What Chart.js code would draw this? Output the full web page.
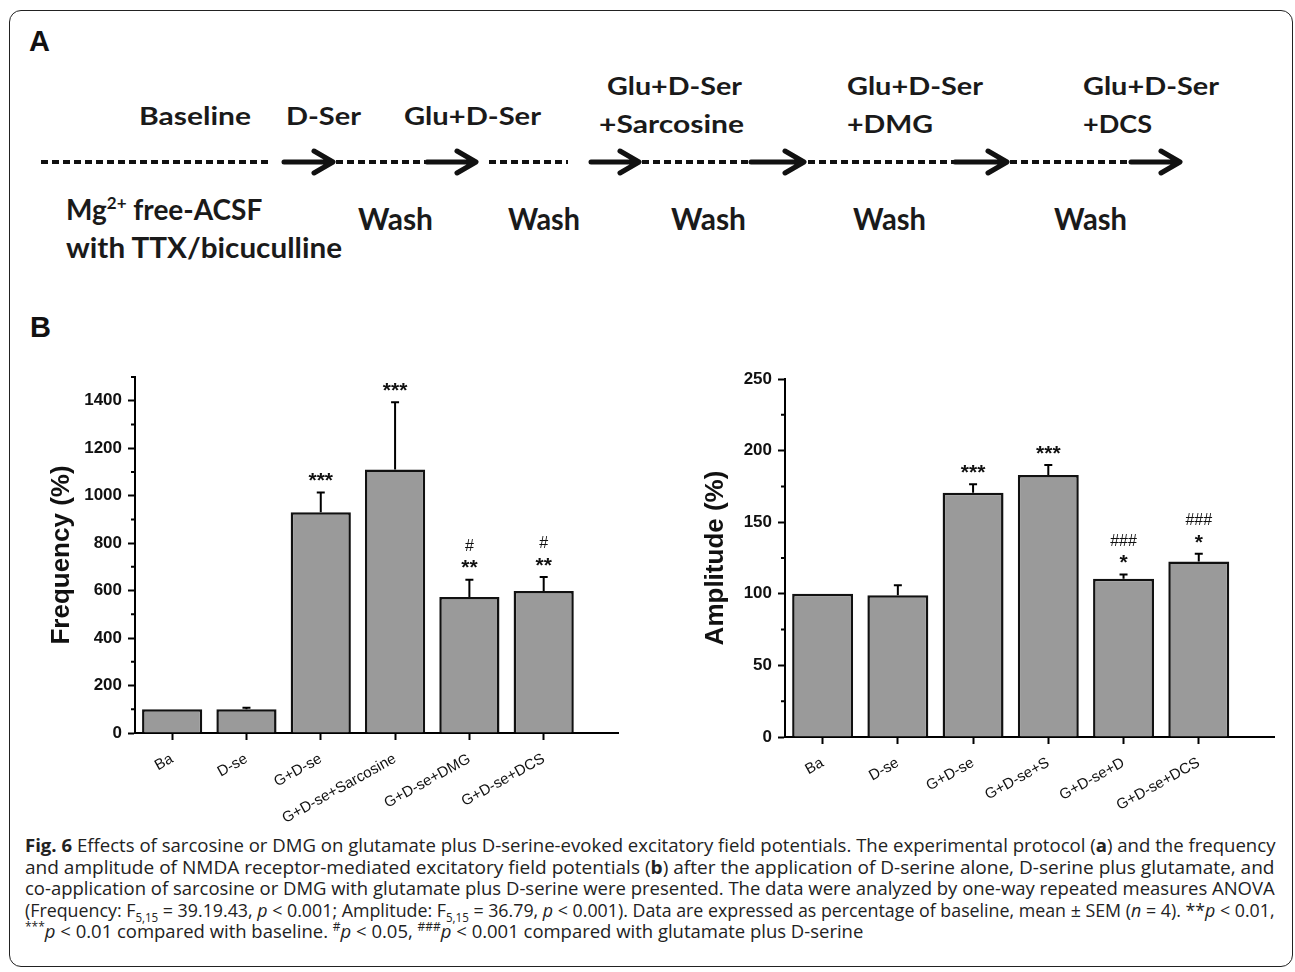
<!DOCTYPE html>
<html>
<head>
<meta charset="utf-8">
<script src="https://cdn.jsdelivr.net/npm/chart.js@4.4.1/dist/chart.umd.min.js"></script>
<style>
body{margin:0;background:#fff;width:1295px;height:972px;position:relative;overflow:hidden;font-family:"Liberation Sans",Arial,sans-serif}
#frame{position:absolute;left:9px;top:10px;width:1284px;height:957px;border:1.5px solid #222;border-radius:12px;box-sizing:border-box}
#proto{position:absolute;left:0;top:0}
.plabel{position:absolute;font:bold 29px "Liberation Sans",Arial,sans-serif;color:#111}
.box{position:absolute}
#caption{position:absolute;left:25px;top:834px;font-family:"Open Sans",sans-serif;font-size:18.5px;line-height:21.5px;color:#222}
#caption span{display:inline-block;white-space:nowrap;transform-origin:0 0}
#caption div{height:21.5px}
sub,sup{font-size:12px;line-height:0}
</style>
</head>
<body>
<div id="frame"></div>
<div class="plabel" style="left:29px;top:25px">A</div>
<div class="plabel" style="left:30px;top:311px">B</div>

<svg id="proto" width="1295" height="300" xmlns="http://www.w3.org/2000/svg">
  <g font-family="Lato, 'Open Sans', sans-serif" font-weight="700" fill="#1a1a1a">
    <text x="139" y="125" font-size="25" textLength="112" lengthAdjust="spacingAndGlyphs">Baseline</text>
    <text x="286" y="125" font-size="25" textLength="75" lengthAdjust="spacingAndGlyphs">D-Ser</text>
    <text x="404" y="125" font-size="25" textLength="137" lengthAdjust="spacingAndGlyphs">Glu+D-Ser</text>
    <text x="607" y="95" font-size="25" textLength="135" lengthAdjust="spacingAndGlyphs">Glu+D-Ser</text>
    <text x="599" y="133" font-size="25" textLength="145" lengthAdjust="spacingAndGlyphs">+Sarcosine</text>
    <text x="847" y="95" font-size="25" textLength="136" lengthAdjust="spacingAndGlyphs">Glu+D-Ser</text>
    <text x="847" y="133" font-size="25" textLength="86" lengthAdjust="spacingAndGlyphs">+DMG</text>
    <text x="1083" y="95" font-size="25" textLength="136" lengthAdjust="spacingAndGlyphs">Glu+D-Ser</text>
    <text x="1083" y="133" font-size="25" textLength="69" lengthAdjust="spacingAndGlyphs">+DCS</text>
    <text x="66" y="220" font-size="28">Mg<tspan font-size="17" dy="-11">2+</tspan><tspan dy="11"> free-ACSF</tspan></text>
    <text x="66" y="258" font-size="28" textLength="276" lengthAdjust="spacingAndGlyphs">with TTX/bicuculline</text>
    <text x="358" y="230" font-size="30" textLength="75" lengthAdjust="spacingAndGlyphs">Wash</text>
    <text x="508" y="230" font-size="30" textLength="72" lengthAdjust="spacingAndGlyphs">Wash</text>
    <text x="671" y="230" font-size="30" textLength="75" lengthAdjust="spacingAndGlyphs">Wash</text>
    <text x="853" y="230" font-size="30" textLength="73" lengthAdjust="spacingAndGlyphs">Wash</text>
    <text x="1054" y="230" font-size="30" textLength="73" lengthAdjust="spacingAndGlyphs">Wash</text>
  </g>
  <g stroke="#111" stroke-width="4" stroke-dasharray="7 4" fill="none">
    <line x1="41" y1="162" x2="272" y2="162"/>
    <line x1="336" y1="162" x2="425" y2="162"/>
    <line x1="489" y1="162" x2="568" y2="162"/>
    <line x1="642" y1="162" x2="751" y2="162"/>
    <line x1="808" y1="162" x2="955" y2="162"/>
    <line x1="1010" y1="162" x2="1131" y2="162"/>
  </g>
  <g stroke="#111" stroke-width="5" stroke-linecap="round" stroke-linejoin="round" fill="none">
    <path d="M284 162 H332 M314 151 L333 162 L314 173"/>
    <path d="M427 162 H475 M457 151 L476 162 L457 173"/>
    <path d="M591 162 H638 M620 151 L639 162 L620 173"/>
    <path d="M751 162 H803 M785 151 L804 162 L785 173"/>
    <path d="M955 162 H1005 M988 151 L1007 162 L988 173"/>
    <path d="M1131 162 H1179 M1161 151 L1180 162 L1161 173"/>
  </g>
</svg>

<div class="box" style="left:20px;top:350px;width:610px;height:480px"><canvas id="freqChart"></canvas></div>
<div class="box" style="left:660px;top:350px;width:625px;height:480px"><canvas id="ampChart"></canvas></div>

<div id="caption">
<div><span><b>Fig. 6</b> Effects of sarcosine or DMG on glutamate plus D-serine-evoked excitatory field potentials. The experimental protocol (<b>a</b>) and the frequency</span></div>
<div><span>and amplitude of NMDA receptor-mediated excitatory field potentials (<b>b</b>) after the application of D-serine alone, D-serine plus glutamate, and</span></div>
<div><span>co-application of sarcosine or DMG with glutamate plus D-serine were presented. The data were analyzed by one-way repeated measures ANOVA</span></div>
<div><span>(Frequency: F<sub>5,15</sub> = 39.19.43, <i>p</i> &lt; 0.001; Amplitude: F<sub>5,15</sub> = 36.79, <i>p</i> &lt; 0.001). Data are expressed as percentage of baseline, mean ± SEM (<i>n</i> = 4). **<i>p</i> &lt; 0.01,</span></div>
<div><span><sup>***</sup><i>p</i> &lt; 0.01 compared with baseline. <sup>#</sup><i>p</i> &lt; 0.05, <sup>###</sup><i>p</i> &lt; 0.001 compared with glutamate plus D-serine</span></div>
</div>

<script>
// frequency panel
const freqGroups = ["Ba", "D-se", "G+D-se", "G+D-se+Sarcosine", "G+D-se+DMG", "G+D-se+DCS"];
const freqMean = [100, 100, 930, 1110, 573, 598];
const freqSem = [0, 6, 83, 284, 73, 59];
const freqStars = ["", "", "***", "***", "**", "**"];
const freqHash = ["", "", "", "", "#", "#"];
const freqTicks = [0, 200, 400, 600, 800, 1000, 1200, 1400];
const freqMinor = [100, 300, 500, 700, 900, 1100, 1300, 1500];

// amplitude panel
const ampGroups = ["Ba", "D-se", "G+D-se", "G+D-se+S", "G+D-se+D", "G+D-se+DCS"];
const ampMean = [100, 99, 170.5, 183, 110.5, 122.5];
const ampSem = [0, 7, 6, 7, 3, 5.5];
const ampStars = ["", "", "***", "***", "*", "*"];
const ampHash = ["", "", "", "", "###", "###"];
const ampTicks = [0, 50, 100, 150, 200, 250];
const ampMinor = [25, 75, 125, 175, 225];

// error bars, significance marks and minor ticks
const errorMarks = {
  id: "errorMarks",
  afterDatasetsDraw(chart, args, opts) {
    const ctx = chart.ctx;
    const x = chart.scales.x, y = chart.scales.y;
    ctx.save();
    ctx.strokeStyle = "#000";
    ctx.lineWidth = 2;
    opts.mean.forEach((m, i) => {
      const px = x.getPixelForValue(i + 1);
      const yb = y.getPixelForValue(m);
      const yt = y.getPixelForValue(m + opts.sem[i]);
      if (opts.sem[i] > 0) {
        ctx.beginPath();
        ctx.moveTo(px, yb); ctx.lineTo(px, yt);
        ctx.moveTo(px - 4, yt); ctx.lineTo(px + 4, yt);
        ctx.stroke();
      }
      ctx.fillStyle = "#111";
      ctx.textAlign = "center";
      ctx.textBaseline = "middle";
      ctx.font = 'bold 21px "Liberation Sans", Arial, sans-serif';
      if (opts.stars[i]) ctx.fillText(opts.stars[i], px, yt - 11);
      ctx.font = '16px "Liberation Sans", Arial, sans-serif';
      if (opts.hash[i]) ctx.fillText(opts.hash[i], px, yt - 33);
    });
    // short minor ticks on the y axis
    const left = chart.chartArea.left;
    ctx.beginPath();
    opts.minor.forEach(v => {
      const py = y.getPixelForValue(v);
      ctx.moveTo(left - 4, py); ctx.lineTo(left, py);
    });
    ctx.stroke();
    ctx.restore();
  }
};

function makeChart(id, groups, mean, sem, stars, hash, ticks, minor, maxY, title, yWidth, xHeight, pad, titlePad) {
  return new Chart(document.getElementById(id), {
    type: "bar",
    data: {
      datasets: [{
        data: mean.map((v, i) => ({x: i + 1, y: v})),
        backgroundColor: "#9a9a9a",
        borderColor: "#111",
        borderWidth: 2.5,
        barPercentage: 0.81,
        categoryPercentage: 1
      }]
    },
    options: {
      responsive: true,
      maintainAspectRatio: false,
      animation: false,
      layout: {padding: pad},
      plugins: {
        legend: {display: false},
        tooltip: {enabled: false},
        errorMarks: {mean: mean, sem: sem, stars: stars, hash: hash, minor: minor}
      },
      scales: {
        x: {
          type: "linear",
          min: 0.5,
          max: 7,
          offset: false,
          afterBuildTicks: s => { s.ticks = groups.map((g, i) => ({value: i + 1})); },
          afterFit: s => { s.height = xHeight; },
          border: {color: "#000", width: 2},
          grid: {drawOnChartArea: false, offset: false, tickLength: 7, tickWidth: 2, tickColor: "#000"},
          ticks: {
            color: "#111",
            font: {family: '"Liberation Sans", Arial, sans-serif', size: 15},
            autoSkip: false,
            minRotation: 29,
            maxRotation: 29,
            padding: 10,
            callback: v => groups[v - 1]
          }
        },
        y: {
          min: 0,
          max: maxY,
          afterBuildTicks: s => { s.ticks = ticks.map(v => ({value: v})); },
          afterFit: s => { s.width = yWidth; },
          border: {color: "#000", width: 2},
          grid: {drawOnChartArea: false, tickLength: 7, tickWidth: 2, tickColor: "#000"},
          ticks: {
            color: "#111",
            font: {family: '"Liberation Sans", Arial, sans-serif', size: 17, weight: "bold"},
            padding: 6,
            callback: v => String(v)
          },
          title: {
            display: true,
            text: title,
            color: "#111",
            font: {family: '"Liberation Sans", Arial, sans-serif', size: 26, weight: "bold"},
            padding: {top: titlePad, bottom: 0}
          }
        }
      }
    },
    plugins: [errorMarks]
  });
}

makeChart("freqChart", freqGroups, freqMean, freqSem, freqStars, freqHash, freqTicks, freqMinor,
  1500, "Frequency (%)", 115, 97, {top: 27, right: 12, left: 0, bottom: 0}, 26);
makeChart("ampChart", ampGroups, ampMean, ampSem, ampStars, ampHash, ampTicks, ampMinor,
  250, "Amplitude (%)", 125, 93, {top: 29, right: 11, left: 0, bottom: 0}, 40);

// fit caption lines to the justified width of the figure
const spans = Array.from(document.querySelectorAll("#caption span"));
let sum = 0;
spans.forEach((s, i) => {
  if (i < 4) {
    const k = 1250 / s.offsetWidth;
    sum += k;
    s.style.transform = "scaleX(" + k + ")";
  }
});
spans[4].style.transform = "scaleX(" + (sum / 4) + ")";
</script>
</body>
</html>
